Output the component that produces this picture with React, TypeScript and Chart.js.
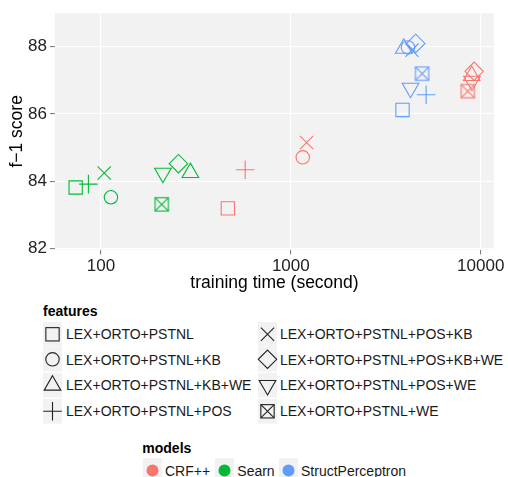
import React, { useEffect, useRef } from "react";
import { Chart, registerables } from "chart.js";

Chart.register(...registerables);

// ---- data ----
const features = [
  "LEX+ORTO+PSTNL",
  "LEX+ORTO+PSTNL+KB",
  "LEX+ORTO+PSTNL+KB+WE",
  "LEX+ORTO+PSTNL+POS",
  "LEX+ORTO+PSTNL+POS+KB",
  "LEX+ORTO+PSTNL+POS+KB+WE",
  "LEX+ORTO+PSTNL+POS+WE",
  "LEX+ORTO+PSTNL+WE",
];
const featureShapes = ["square", "circle", "triangle", "plus", "x", "diamond", "triangleDown", "squareX"];
const models = ["CRF++", "Searn", "StructPerceptron"];
const modelColors = ["#F8766D", "#00BA38", "#619CFF"];

const crfTime = [466, 1156, 8970, 575, 1211, 9230, 9000, 8550];
const crfF1 = [83.19, 84.71, 87.14, 84.34, 85.15, 87.27, 86.98, 86.68];
const searnTime = [73.6, 112.9, 296, 85.9, 104.1, 256, 212, 209];
const searnF1 = [83.81, 83.52, 84.25, 83.91, 84.24, 84.52, 84.24, 83.31];
const spTime = [3875, 4140, 3935, 5160, 4345, 4550, 4270, 4913];
const spF1 = [86.12, 87.98, 87.95, 86.57, 87.9, 88.1, 86.77, 87.2];

const xTicks = [100, 1000, 10000];
const yTicks = [82, 84, 86, 88];

const FONT = '"Liberation Sans", Arial, Helvetica, sans-serif';
const PANEL_BG = "#F2F2F2";

function makeSquareX(color: string) {
  const c = document.createElement("canvas");
  c.width = 17;
  c.height = 17;
  const g = c.getContext("2d")!;
  const h = 6.65;
  const m = 8.5;
  g.strokeStyle = color;
  g.lineWidth = 1.1;
  g.strokeRect(m - h, m - h, 2 * h, 2 * h);
  g.beginPath();
  g.moveTo(m - h, m - h);
  g.lineTo(m + h, m + h);
  g.moveTo(m + h, m - h);
  g.lineTo(m - h, m + h);
  g.stroke();
  return c;
}

function styleFor(shape: string, color: string) {
  switch (shape) {
    case "square":
      return { style: "rect" as any, r: 9.4, rot: 0 };
    case "circle":
      return { style: "circle" as any, r: 6.7, rot: 0 };
    case "triangle":
      return { style: "triangle" as any, r: 9.6, rot: 0 };
    case "plus":
      return { style: "cross" as any, r: 9.3, rot: 0 };
    case "x":
      return { style: "crossRot" as any, r: 9.4, rot: 0 };
    case "diamond":
      return { style: "rectRot" as any, r: 9.2, rot: 0 };
    case "triangleDown":
      return { style: "triangle" as any, r: 9.6, rot: 180 };
    default:
      return { style: makeSquareX(color) as any, r: 9.4, rot: 0 };
  }
}

const panelBg = {
  id: "panelBg",
  beforeDraw(chart: any) {
    const { ctx, chartArea } = chart;
    ctx.save();
    ctx.fillStyle = PANEL_BG;
    ctx.fillRect(chartArea.left, chartArea.top, chartArea.right - chartArea.left, chartArea.bottom - chartArea.top);
    ctx.restore();
  },
};

function Glyph({ shape, color }: { shape: string; color: string }) {
  const cx = 9.5;
  const cy = 12.3;
  const sw = 1.1;
  const common = { fill: "none", stroke: color, strokeWidth: sw };
  let el: any = null;
  const t = 9.6;
  const tw = t * Math.sqrt(3) / 2;
  switch (shape) {
    case "square":
      el = <rect x={cx - 6.65} y={cy - 6.65} width={13.3} height={13.3} {...common} />;
      break;
    case "circle":
      el = <circle cx={cx} cy={cy} r={6.7} {...common} />;
      break;
    case "triangle":
      el = <polygon points={`${cx},${cy - t} ${cx + tw},${cy + t / 2} ${cx - tw},${cy + t / 2}`} {...common} />;
      break;
    case "triangleDown":
      el = <polygon points={`${cx},${cy + t} ${cx + tw},${cy - t / 2} ${cx - tw},${cy - t / 2}`} {...common} />;
      break;
    case "plus":
      el = <path d={`M${cx - 9.3},${cy}H${cx + 9.3}M${cx},${cy - 9.3}V${cy + 9.3}`} {...common} />;
      break;
    case "x":
      el = <path d={`M${cx - 6.6},${cy - 6.6}L${cx + 6.6},${cy + 6.6}M${cx + 6.6},${cy - 6.6}L${cx - 6.6},${cy + 6.6}`} {...common} />;
      break;
    case "diamond":
      el = <polygon points={`${cx},${cy - 9.2} ${cx + 9.2},${cy} ${cx},${cy + 9.2} ${cx - 9.2},${cy}`} {...common} />;
      break;
    default:
      el = (
        <g {...common}>
          <rect x={cx - 6.65} y={cy - 6.65} width={13.3} height={13.3} />
          <path d={`M${cx - 6.65},${cy - 6.65}L${cx + 6.65},${cy + 6.65}M${cx + 6.65},${cy - 6.65}L${cx - 6.65},${cy + 6.65}`} />
        </g>
      );
  }
  return (
    <svg width={19} height={24.6} style={{ display: "block", overflow: "visible" }}>
      <rect x={0} y={0} width={19} height={24.6} fill={PANEL_BG} />
      {el}
    </svg>
  );
}

export default function App() {
  const ref = useRef<HTMLCanvasElement | null>(null);

  useEffect(() => {
    if (!ref.current) return;
    const series = [
      { t: crfTime, f: crfF1 },
      { t: searnTime, f: searnF1 },
      { t: spTime, f: spF1 },
    ];
    const datasets = series.map((s, mi) => {
      const color = modelColors[mi];
      const st = featureShapes.map((sh) => styleFor(sh, color));
      return {
        label: models[mi],
        data: features.map((_, i) => ({ x: s.t[i], y: s.f[i] })),
        pointStyle: st.map((o) => o.style),
        pointRadius: st.map((o) => o.r),
        pointRotation: st.map((o) => o.rot),
        pointBorderColor: color,
        pointBackgroundColor: "rgba(0,0,0,0)",
        pointBorderWidth: 1.1,
        borderColor: color,
        backgroundColor: "rgba(0,0,0,0)",
        showLine: false,
      };
    });

    const chart = new Chart(ref.current, {
      type: "scatter",
      data: { datasets: datasets as any },
      plugins: [panelBg],
      options: {
        animation: false,
        responsive: false,
        events: [],
        layout: { padding: { top: 9, right: 14, left: 0, bottom: 0 } },
        plugins: { legend: { display: false }, tooltip: { enabled: false } },
        scales: {
          x: {
            type: "logarithmic",
            position: "bottom",
            min: 57.3,
            max: 11750,
            afterBuildTicks: (s: any) => {
              s.ticks = xTicks.map((v) => ({ value: v }));
            },
            afterFit: (s: any) => {
              s.height = 50.5;
            },
            ticks: {
              callback: (v: any) => String(v),
              font: { size: 17, family: FONT },
              color: "#222",
              padding: 2,
              maxRotation: 0,
              autoSkip: false,
            },
            grid: { color: "#ffffff", lineWidth: 1.1, tickLength: 5, tickColor: "#7f7f7f", drawTicks: true },
            border: { display: false },
            title: {
              display: true,
              text: "training time (second)",
              font: { size: 17.5, family: FONT },
              color: "#000",
              padding: { top: 0, bottom: 6.5 },
            },
          },
          y: {
            type: "linear",
            min: 81.965,
            max: 89.0,
            afterBuildTicks: (s: any) => {
              s.ticks = yTicks.map((v) => ({ value: v }));
            },
            afterFit: (s: any) => {
              s.width = 55;
            },
            ticks: {
              callback: (v: any) => String(v),
              font: { size: 17, family: FONT },
              color: "#222",
              padding: 3,
            },
            grid: { color: "#ffffff", lineWidth: 1.1, tickLength: 5, tickColor: "#7f7f7f", drawTicks: true },
            border: { display: false },
            title: {
              display: true,
              text: "f\u22121 score",
              font: { size: 17.5, family: FONT },
              color: "#000",
              padding: { top: 6.5, bottom: 0 },
            },
          },
        },
      } as any,
    });
    return () => chart.destroy();
  }, []);

  const rowTop = (i: number) => 321.7 + i * 25.6;
  const colKey = [43, 258];
  const colText = [66, 280];
  const modelKeyLeft = [143.3, 215, 279.3];
  const modelTextLeft = [165, 237.3, 301];

  return (
    <div
      style={{
        position: "absolute",
        left: 0,
        top: 0,
        width: 508,
        height: 477,
        overflow: "hidden",
        background: "#fff",
        fontFamily: FONT,
        color: "#1a1a1a",
      }}
    >
      <canvas ref={ref} width={508} height={300} style={{ position: "absolute", left: 0, top: 0 }} />

      <div style={{ position: "absolute", left: 43, top: 303, fontSize: 14, lineHeight: "16px", fontWeight: "bold", color: "#000" }}>
        features
      </div>
      {features.map((f, i) => {
        const col = i < 4 ? 0 : 1;
        const row = i % 4;
        const top = rowTop(row);
        return (
          <React.Fragment key={f}>
            <div style={{ position: "absolute", left: colKey[col], top }}>
              <Glyph shape={featureShapes[i]} color="#222" />
            </div>
            <div
              style={{
                position: "absolute",
                left: colText[col],
                top: top + 12.3 - 8,
                fontSize: 14,
                lineHeight: "16px",
                whiteSpace: "nowrap",
              }}
            >
              {f}
            </div>
          </React.Fragment>
        );
      })}

      <div style={{ position: "absolute", left: 142.3, top: 440, fontSize: 14, lineHeight: "16px", fontWeight: "bold", color: "#000" }}>
        models
      </div>
      {models.map((m, i) => (
        <React.Fragment key={m}>
          <div style={{ position: "absolute", left: modelKeyLeft[i], top: 458, width: 19, height: 24.6, background: PANEL_BG }}>
            <svg width={19} height={24.6} style={{ display: "block" }}>
              <circle cx={9.5} cy={12.6} r={6} fill={modelColors[i]} />
            </svg>
          </div>
          <div
            style={{
              position: "absolute",
              left: modelTextLeft[i],
              top: 470.6 - 8,
              fontSize: 14,
              lineHeight: "16px",
              whiteSpace: "nowrap",
            }}
          >
            {m}
          </div>
        </React.Fragment>
      ))}
    </div>
  );
}
